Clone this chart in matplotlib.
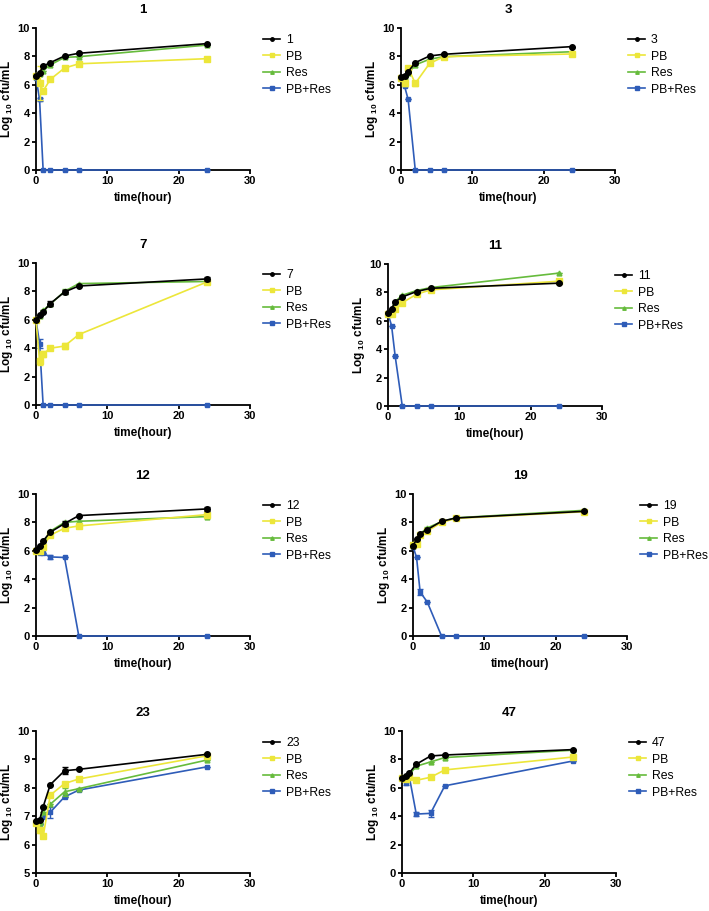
import matplotlib
matplotlib.use('Agg')
import matplotlib.pyplot as plt
from matplotlib.lines import Line2D

plt.rcParams['font.family'] = ['Liberation Sans', 'DejaVu Sans']
plt.rcParams['mathtext.fontset'] = 'custom'
plt.rcParams['mathtext.bf'] = 'Liberation Sans:bold'
plt.rcParams['mathtext.rm'] = 'Liberation Sans:bold'

# время отбора проб, часы
time = [0, 0.5, 1, 2, 4, 6, 24]

panels = ['1', '3', '7', '11', '12', '19', '23', '47']

ctrl = [
    [6.62, 6.85, 7.32, 7.56, 8.03, 8.22, 8.90],
    [6.53, 6.62, 6.92, 7.56, 8.03, 8.15, 8.69],
    [5.97, 6.32, 6.56, 7.14, 7.96, 8.38, 8.88],
    [6.52, 6.85, 7.32, 7.68, 8.06, 8.29, 8.65],
    [6.04, 6.35, 6.70, 7.31, 7.92, 8.48, 8.95],
    [6.37, 6.80, 7.21, 7.49, 8.08, 8.31, 8.78],
    [6.82, 6.86, 7.33, 8.11, 8.60, 8.65, 9.18],
    [6.72, 6.81, 7.03, 7.66, 8.24, 8.31, 8.69],
]
pb = [
    [6.60, 6.15, 5.56, 6.38, 7.18, 7.48, 7.84],
    [6.45, 6.15, 7.20, 6.10, 7.50, 7.98, 8.17],
    [5.97, 3.09, 3.58, 4.00, 4.15, 4.96, 8.67],
    [6.50, 6.50, 6.85, 7.27, 7.87, 8.18, 8.79],
    [6.00, 6.00, 6.28, 7.10, 7.59, 7.75, 8.55],
    [6.40, 6.50, 7.10, 7.38, 8.00, 8.28, 8.75],
    [6.75, 6.52, 6.29, 7.74, 8.15, 8.31, 9.13],
    [6.70, 6.60, 6.77, 6.53, 6.74, 7.26, 8.17],
]
res = [
    [6.60, 6.75, 7.00, 7.40, 7.93, 7.98, 8.80],
    [6.50, 6.55, 6.80, 7.40, 7.80, 7.98, 8.33],
    [5.97, 6.30, 6.67, 7.10, 8.00, 8.55, 8.70],
    [6.55, 6.80, 7.35, 7.80, 8.13, 8.34, 9.36],
    [6.00, 6.10, 6.50, 7.38, 8.00, 8.08, 8.41],
    [6.40, 6.70, 7.20, 7.61, 8.05, 8.32, 8.85],
    [6.80, 6.75, 7.15, 7.42, 7.86, 7.97, 8.98],
    [6.70, 6.70, 6.90, 7.52, 7.82, 8.13, 8.65],
]
combo = [
    [6.50, 4.97, 0, 0, 0, 0, 0],
    [6.50, 5.90, 4.97, 0, 0, 0, 0],
    [5.97, 4.33, 0, 0, 0, 0, 0],
    [6.50, 5.66, 3.53, 0, 0, 0, 0],
    [6.00, 5.81, 5.81, 5.57, 5.53, 0, 0],
    [6.30, 5.53, 3.10, 2.39, 0, 0, 0],
    [6.78, 6.72, 6.98, 7.14, 7.68, 7.92, 8.74],
    [6.70, 6.32, 6.84, 4.15, 4.20, 6.14, 7.89],
]

# стандартные отклонения (только заметные)
ctrl_err = [
    [0, 0, 0, 0, 0, 0, 0],
    [0, 0, 0, 0, 0, 0, 0],
    [0, 0, 0, 0.2, 0.15, 0, 0.15],
    [0, 0, 0, 0, 0, 0, 0],
    [0, 0, 0, 0, 0.15, 0, 0.15],
    [0, 0, 0, 0, 0, 0, 0],
    [0, 0, 0, 0, 0.12, 0, 0],
    [0, 0, 0, 0, 0, 0, 0],
]
pb_err = [
    [0, 1.2, 0, 0, 0, 0.15, 0],
    [0, 0.2, 0.1, 0.15, 0, 0, 0.15],
    [0, 0.25, 0.2, 0, 0.2, 0, 0],
    [0, 0, 0, 0, 0, 0, 0.1],
    [0, 0, 0, 0, 0, 0, 0.1],
    [0, 0, 0, 0, 0, 0, 0],
    [0, 0.1, 0, 0, 0, 0, 0],
    [0, 0, 0, 0, 0, 0, 0.15],
]
res_err = [
    [0, 0, 0, 0, 0, 0, 0],
    [0, 0, 0, 0, 0, 0, 0],
    [0, 0, 0, 0, 0.2, 0, 0],
    [0, 0, 0, 0, 0, 0, 0],
    [0, 0, 0, 0, 0, 0, 0],
    [0, 0, 0, 0.1, 0, 0, 0],
    [0, 0, 0, 0, 0.15, 0, 0],
    [0, 0, 0, 0, 0, 0, 0],
]
combo_err = [
    [0, 0.1, 0, 0, 0, 0, 0],
    [0, 0, 0, 0, 0, 0, 0],
    [0, 0.3, 0, 0, 0, 0, 0],
    [0, 0, 0, 0, 0, 0, 0],
    [0, 0, 0, 0.12, 0, 0, 0],
    [0, 0, 0.2, 0, 0, 0, 0],
    [0, 0, 0, 0.2, 0, 0, 0],
    [0, 0.1, 0, 0.15, 0.25, 0, 0],
]

ymins = [0, 0, 0, 0, 0, 0, 5, 0]

# положение осей в пикселях: левый край, низ
positions = [
    (36, 170), (401, 170),
    (36, 405), (388, 406),
    (36, 636), (413, 636),
    (36, 873), (402, 873),
]

W, H = 709, 911
fig = plt.figure(figsize=(W / 100, H / 100), dpi=100)

colors = ['black', '#ECE63A', '#66BB3C', '#2E5CB8']
markers = ['o', 's', '^', 's']
msizes = [4, 4, 3.5, 3]

for i, name in enumerate(panels):
    left, bottom = positions[i]
    ax = fig.add_axes([left / W, 1 - bottom / H, 214 / W, 142 / H])
    series = [ctrl[i], pb[i], res[i], combo[i]]
    errs = [ctrl_err[i], pb_err[i], res_err[i], combo_err[i]]
    labels = [name, 'PB', 'Res', 'PB+Res']
    handles = []
    for k in range(4):
        ax.errorbar(time, series[k], yerr=errs[k], color=colors[k], marker=markers[k],
                    markersize=msizes[k], linewidth=1.2, elinewidth=1.0, capsize=2,
                    capthick=1.0, clip_on=False, zorder=6 - k)
        handles.append(Line2D([], [], color=colors[k], marker=markers[k],
                              markersize=2.5, linewidth=1.2))

    ax.set_xlim(0, 30)
    ax.set_ylim(ymins[i], 10)
    ax.set_xticks([0, 10, 20, 30])
    if ymins[i] == 5:
        ax.set_yticks([5, 6, 7, 8, 9, 10])
    else:
        ax.set_yticks([0, 2, 4, 6, 8, 10])
    for s in ['top', 'right']:
        ax.spines[s].set_visible(False)
    for s in ['left', 'bottom']:
        ax.spines[s].set_linewidth(1.3)
    ax.tick_params(width=1.3, length=3, labelsize=8, pad=1.5)
    for t in ax.get_xticklabels() + ax.get_yticklabels():
        t.set_fontweight('bold')
    ax.set_title(name, fontsize=9.5, fontweight='bold', pad=11)
    ax.set_xlabel('time(hour)', fontsize=8.5, fontweight='bold', labelpad=4)
    ax.set_ylabel(r'Log $_{\mathbf{10}}$ cfu/mL', fontsize=8.5, fontweight='bold', labelpad=2)
    ax.legend(handles, labels, loc='upper left', bbox_to_anchor=(1.04, 0.99),
              frameon=False, fontsize=8.8, handlelength=1.35, labelspacing=0.36,
              handletextpad=0.5, borderaxespad=0)

fig.savefig('out.png', dpi=100)
